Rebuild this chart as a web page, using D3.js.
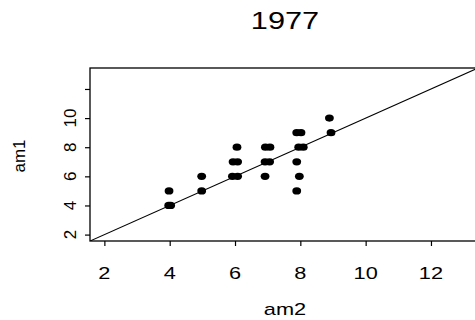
<!DOCTYPE html>
<html>
<head>
<meta charset="utf-8">
<script src="https://cdn.jsdelivr.net/npm/d3@7"></script>
<style>
  body { margin: 0; background: #fff; }
  text { font-family: "Liberation Sans", Arial, sans-serif; fill: #000; }
</style>
</head>
<body>
<svg id="chart" width="475" height="320"></svg>
<script>
// data (am2 on x, am1 on y) - x slightly jittered as in the original
const am2 = [3.97, 4.03, 3.98, 4.98, 4.98, 5.92, 6.08, 5.94, 6.08, 6.06,
             6.93, 7.07, 6.92, 7.06, 6.92, 7.89, 8.02, 7.95, 8.09, 7.89,
             7.97, 7.89, 8.89, 8.94];
const am1 = [4, 4, 5, 5, 6, 6, 6, 7, 7, 8,
             8, 8, 7, 7, 6, 9, 9, 8, 8, 7,
             6, 5, 10, 9];
const xTicks = [2, 4, 6, 8, 10, 12];
const yTicks = [2, 4, 6, 8, 10, 12];
const yTickLabels = ['2', '4', '6', '8', '10', ''];
const title = '1977';

const svg = d3.select('#chart');
const pLeft = 90, pRight = 478, pTop = 68, pBottom = 241;
const sx = 1.28; // text in the picture is stretched sideways

const x = d3.scaleLinear().domain([1.56, 13.44]).range([pLeft, pRight]);
const y = d3.scaleLinear().domain([1.56, 13.44]).range([pBottom, pTop]);

svg.append('clipPath').attr('id', 'clip')
  .append('rect')
  .attr('x', pLeft).attr('y', pTop)
  .attr('width', pRight - pLeft).attr('height', pBottom - pTop);

// axes
const xAxis = svg.append('g')
  .attr('transform', 'translate(0,' + pBottom + ')')
  .call(d3.axisBottom(x).tickValues(xTicks).tickSize(5).tickFormat(''));
const yAxis = svg.append('g')
  .attr('transform', 'translate(' + pLeft + ',0)')
  .call(d3.axisLeft(y).tickValues(yTicks).tickSize(5).tickFormat(''));
[xAxis, yAxis].forEach(g => {
  g.select('.domain').remove();
  g.selectAll('line').attr('stroke', '#000').attr('stroke-width', 1.2);
});

// tick labels
svg.append('g').selectAll('text')
  .data(xTicks)
  .enter().append('text')
  .attr('transform', d => 'translate(' + x(d) + ',279) scale(' + sx + ',1)')
  .attr('text-anchor', 'middle')
  .style('font-size', '17px')
  .text(d => d);

svg.append('g').selectAll('text')
  .data(yTicks)
  .enter().append('text')
  .attr('transform', d => 'translate(75.5,' + y(d) + ') rotate(-90)')
  .attr('text-anchor', 'middle')
  .style('font-size', '17px')
  .text((d, i) => yTickLabels[i]);

// box
svg.append('rect')
  .attr('x', pLeft).attr('y', pTop)
  .attr('width', pRight - pLeft).attr('height', pBottom - pTop)
  .attr('fill', 'none')
  .attr('stroke', '#000')
  .attr('stroke-width', 1.3);

// y = x line
svg.append('line')
  .attr('clip-path', 'url(#clip)')
  .attr('x1', x(1.56)).attr('y1', y(1.56))
  .attr('x2', x(13.44)).attr('y2', y(13.44))
  .attr('stroke', '#000')
  .attr('stroke-width', 1.1);

// points
svg.append('g').selectAll('ellipse')
  .data(am2.map((d, i) => [d, am1[i]]))
  .enter().append('ellipse')
  .attr('cx', d => x(d[0]))
  .attr('cy', d => y(d[1]))
  .attr('rx', 4.4)
  .attr('ry', 3.6)
  .attr('fill', '#000');

// titles
svg.append('text')
  .attr('transform', 'translate(285,29) scale(' + sx + ',1)')
  .attr('text-anchor', 'middle')
  .style('font-size', '24px')
  .text(title);

svg.append('text')
  .attr('transform', 'translate(285,315) scale(' + sx + ',1)')
  .attr('text-anchor', 'middle')
  .style('font-size', '17px')
  .text('am2');

svg.append('text')
  .attr('transform', 'translate(25,156) rotate(-90)')
  .attr('text-anchor', 'middle')
  .style('font-size', '17px')
  .text('am1');
</script>
</body>
</html>
